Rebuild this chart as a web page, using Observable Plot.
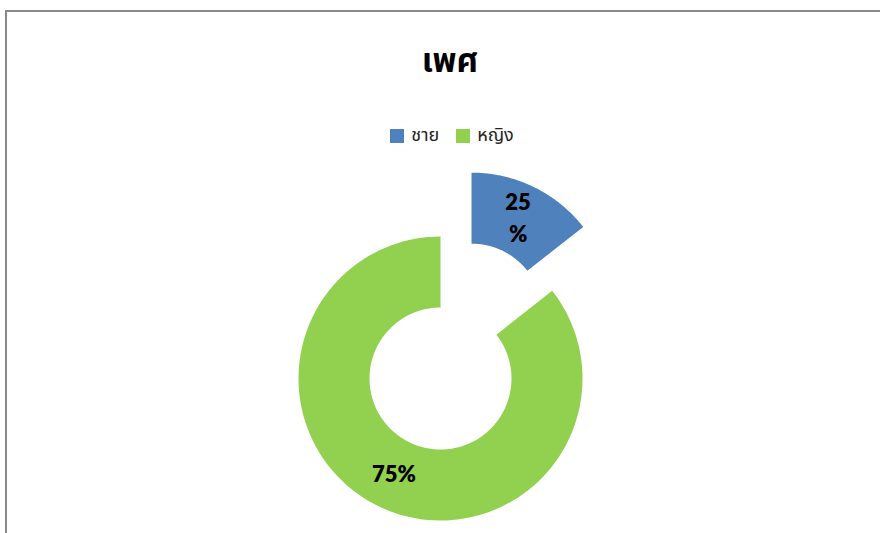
<!DOCTYPE html>
<html>
<head>
<meta charset="utf-8">
<script src="https://cdn.jsdelivr.net/npm/d3@7"></script>
<script src="https://cdn.jsdelivr.net/npm/@observablehq/plot@0.6"></script>
<style>
  html, body { margin: 0; padding: 0; background: #fff; }
  #page { position: relative; width: 880px; height: 533px; overflow: hidden; background: #fff;
          font-family: "Noto Sans Thai", "Tahoma", "Noto Sans", "DejaVu Sans", sans-serif; }
  #frame { position: absolute; left: 5px; top: 10px; width: 900px; height: 600px;
           border-left: 2px solid #898989; border-top: 2px solid #898989; box-sizing: border-box; }
  #title { position: absolute; left: 0; width: 900px; top: 37px; text-align: center;
           font-size: 33px; font-weight: bold; color: #000; }
  #legend { position: absolute; left: 2px; width: 900px; top: 122px; display: flex; justify-content: center;
            gap: 17px; font-size: 18px; color: #222; }
  .item { display: flex; align-items: center; gap: 7px; }
  .sw { width: 14px; height: 14px; display: inline-block; }
  #chart { position: absolute; left: 0; top: 150px; }
</style>
</head>
<body>
<div id="page">
  <div id="frame"></div>
  <div id="title"></div>
  <div id="legend"></div>
  <div id="chart"></div>
</div>
<script>
// ---- data ----
const titleText = "เพศ";
const categories = ["ชาย", "หญิง"];
const sliceValues = [14.4, 85.6];
const labelTexts = ["25\n%", "75%"];
const colors = ["#4F81BD", "#92D050"];
const explode = [0.5, 0];

// ---- layout constants ----
const W = 880, H = 383;
const R = 142, innerRatio = 0.5;
const cx = 440, cy = 228; // donut centre inside svg (px)

document.getElementById("title").textContent = titleText;
const legend = document.getElementById("legend");
categories.forEach((c, i) => {
  const it = document.createElement("div");
  it.className = "item";
  const sw = document.createElement("span");
  sw.className = "sw"; sw.style.background = colors[i];
  const tx = document.createElement("span");
  tx.textContent = c;
  it.appendChild(sw); it.appendChild(tx);
  legend.appendChild(it);
});

const arcs = d3.pie().sort(null).value(d => d)(sliceValues);
const points = [];
const labels = [];
arcs.forEach((a, i) => {
  const mid = (a.startAngle + a.endAngle) / 2;
  const ox = explode[i] * R * Math.sin(mid);
  const oy = explode[i] * R * Math.cos(mid);
  const n = 120;
  for (let k = 0; k <= n; k++) {
    const t = a.startAngle + (a.endAngle - a.startAngle) * k / n;
    points.push({cat: categories[i], x: ox + R * Math.sin(t), y: oy + R * Math.cos(t)});
  }
  for (let k = n; k >= 0; k--) {
    const t = a.startAngle + (a.endAngle - a.startAngle) * k / n;
    points.push({cat: categories[i], x: ox + R * innerRatio * Math.sin(t), y: oy + R * innerRatio * Math.cos(t)});
  }
  const lr = R * (1 + innerRatio) / 2;
  labels.push({text: labelTexts[i], x: ox + lr * Math.sin(mid), y: oy + lr * Math.cos(mid)});
});

const plot = Plot.plot({
  width: W, height: H,
  margin: 0,
  x: {domain: [-cx, W - cx], axis: null},
  y: {domain: [-(H - cy), cy], axis: null},
  color: {domain: categories, range: colors},
  marks: [
    Plot.line(points, {x: "x", y: "y", z: "cat", fill: "cat", stroke: null, curve: "linear"}),
    Plot.text(labels, {x: "x", y: "y", text: "text", fontSize: 22, fontWeight: 800, dy: -3,
      fill: "#000", lineHeight: 1.45, fontFamily: "Lato, 'Open Sans', sans-serif"})
  ]
});
plot.style.background = "transparent";
document.getElementById("chart").appendChild(plot);
</script>
</body>
</html>
